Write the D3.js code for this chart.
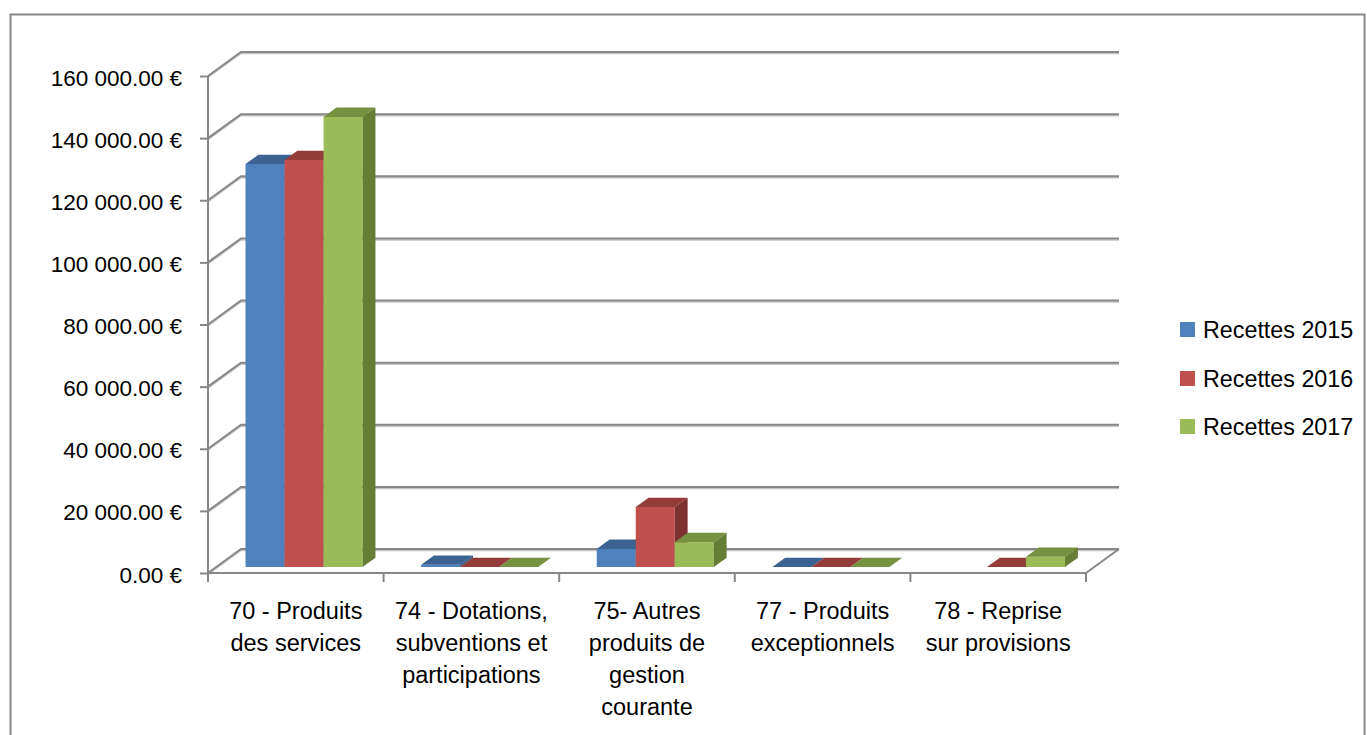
<!DOCTYPE html>
<html>
<head>
<meta charset="utf-8">
<script src="https://cdn.jsdelivr.net/npm/d3@7"></script>
<style>
  html, body { margin: 0; padding: 0; background: #fff; }
  svg text { font-family: "Liberation Sans", Arial, sans-serif; fill: #000; }
</style>
</head>
<body>
<svg id="chart" width="1367" height="735"></svg>
<script>
// Category labels, already split into the lines they are shown on
const categories = ["70", "74", "75", "77", "78"];
const categoryLines = [
  ["70 - Produits", "des services"],
  ["74 - Dotations,", "subventions et", "participations"],
  ["75- Autres", "produits de", "gestion", "courante"],
  ["77 - Produits", "exceptionnels"],
  ["78 - Reprise", "sur provisions"]
];

// Receipts per year (null = no entry)
const seriesNames = ["Recettes 2015", "Recettes 2016", "Recettes 2017"];
const recettes2015 = [129700, 700, 5800, 0, null];
const recettes2016 = [131000, 0, 19300, 0, 0];
const recettes2017 = [144900, 0, 8000, 0, 3300];
const seriesValues = [recettes2015, recettes2016, recettes2017];

const yTicks = [0, 20000, 40000, 60000, 80000, 100000, 120000, 140000, 160000];

// Face colours: front, top, side
const palette = [
  { front: "#4F81BD", top: "#3C6291", side: "#345580" },
  { front: "#C0504D", top: "#933C3A", side: "#7E3230" },
  { front: "#9BBB59", top: "#76913F", side: "#667D36" }
];

const svg = d3.select("#chart");

// Oblique depth vector for the 3D box
const DEPTH = { dx: 33, dy: -24 };
const proj = (x, y, z) => [x + z * DEPTH.dx, y + z * DEPTH.dy];

const y = d3.scaleLinear().domain([0, 160000]).range([573, 76]);
const x = d3.scaleBand().domain(categories).range([208, 1086]).padding(0);
const xs = d3.scaleBand().domain(seriesNames).range([0, x.bandwidth()])
  .paddingInner(0).paddingOuter(0.75);

const gridColor = "#878787";

// Outer frame
svg.append("rect")
  .attr("x", 10.5).attr("y", 14.5)
  .attr("width", 1354).attr("height", 740)
  .attr("fill", "none").attr("stroke", "#888").attr("stroke-width", 2);

// Side wall and back wall gridlines
const xLeft = x.range()[0], xRight = x.range()[1];
const grid = svg.append("g");
yTicks.forEach(v => {
  const p0 = [xLeft, y(v)];
  const p1 = proj(xLeft, y(v), 1);
  const p2 = proj(xRight, y(v), 1);
  grid.append("polyline")
    .attr("points", [p0, p1, p2].map(p => p.join(",")).join(" "))
    .attr("fill", "none").attr("stroke", "#c4c4c4").attr("stroke-width", 1.5)
    .attr("transform", "translate(0,1.5)");
  grid.append("polyline")
    .attr("points", [p0, p1, p2].map(p => p.join(",")).join(" "))
    .attr("fill", "none").attr("stroke", gridColor).attr("stroke-width", 2);
});

// Floor right edge
const fr0 = [xRight, y(0)], fr1 = proj(xRight, y(0), 1);
svg.append("line")
  .attr("x1", fr0[0]).attr("y1", fr0[1]).attr("x2", fr1[0]).attr("y2", fr1[1])
  .attr("stroke", gridColor).attr("stroke-width", 2);

// Bars as boxes: front face, top face, side face
const Z0 = 0.25, Z1 = 0.64;
const bars = svg.append("g");
categories.forEach((cat, ci) => {
  seriesNames.forEach((name, si) => {
    const v = seriesValues[si][ci];
    if (v === null || v === undefined) return;
    const col = palette[si];
    const xa = x(cat) + xs(name);
    const xb = xa + xs.bandwidth();
    const yTop = y(v), yBase = y(0);
    const f = [proj(xa, yTop, Z0), proj(xb, yTop, Z0), proj(xb, yBase, Z0), proj(xa, yBase, Z0)];
    const t = [proj(xa, yTop, Z0), proj(xb, yTop, Z0), proj(xb, yTop, Z1), proj(xa, yTop, Z1)];
    const s = [proj(xb, yTop, Z0), proj(xb, yTop, Z1), proj(xb, yBase, Z1), proj(xb, yBase, Z0)];
    const pts = a => a.map(p => p.join(",")).join(" ");
    bars.append("polygon").attr("points", pts(f)).attr("fill", col.front);
    bars.append("polygon").attr("points", pts(t)).attr("fill", col.top);
    bars.append("polygon").attr("points", pts(s)).attr("fill", col.side);
  });
});

// Value axis
const fmt = v => {
  const [i, d] = v.toFixed(2).split(".");
  return i.replace(/\B(?=(\d{3})+(?!\d))/g, " ") + "." + d + " €";
};
const yAxis = svg.append("g")
  .attr("transform", `translate(${xLeft},0)`)
  .call(d3.axisLeft(y).tickValues(yTicks).tickSize(8).tickPadding(18).tickFormat(fmt));
yAxis.select(".domain").remove();
yAxis.selectAll(".tick line").attr("stroke", gridColor).attr("stroke-width", 2);
yAxis.selectAll(".tick text")
  .attr("font-size", 22.5)
  .attr("font-family", "Liberation Sans, Arial, sans-serif")
  .attr("dy", "0.4em");
svg.append("line")
  .attr("x1", xLeft).attr("y1", y(160000)).attr("x2", xLeft).attr("y2", y(0) + 9)
  .attr("stroke", gridColor).attr("stroke-width", 2);

// Category axis: front floor edge, boundary ticks, wrapped labels
svg.append("line")
  .attr("x1", xLeft).attr("y1", y(0)).attr("x2", xRight).attr("y2", y(0))
  .attr("stroke", gridColor).attr("stroke-width", 2);
const bounds = categories.map(c => x(c)).concat([xRight]);
svg.append("g").selectAll("line").data(bounds).join("line")
  .attr("x1", d => d).attr("x2", d => d)
  .attr("y1", y(0)).attr("y2", y(0) + 9)
  .attr("stroke", gridColor).attr("stroke-width", 2);

const labels = svg.append("g");
categories.forEach((cat, ci) => {
  const t = labels.append("text")
    .attr("x", x(cat) + x.bandwidth() / 2)
    .attr("y", 619)
    .attr("text-anchor", "middle")
    .attr("font-size", 23.5);
  categoryLines[ci].forEach((line, li) => {
    t.append("tspan")
      .attr("x", x(cat) + x.bandwidth() / 2)
      .attr("y", 619 + li * 32)
      .text(line);
  });
});

// Legend
const legend = svg.append("g");
const legendY = [330, 379, 427];
seriesNames.forEach((name, i) => {
  legend.append("rect")
    .attr("x", 1180).attr("y", legendY[i] - 8)
    .attr("width", 15).attr("height", 15)
    .attr("fill", palette[i].front);
  legend.append("text")
    .attr("x", 1203).attr("y", legendY[i])
    .attr("dy", "0.36em")
    .attr("font-size", 23.3)
    .text(name);
});
</script>
</body>
</html>
